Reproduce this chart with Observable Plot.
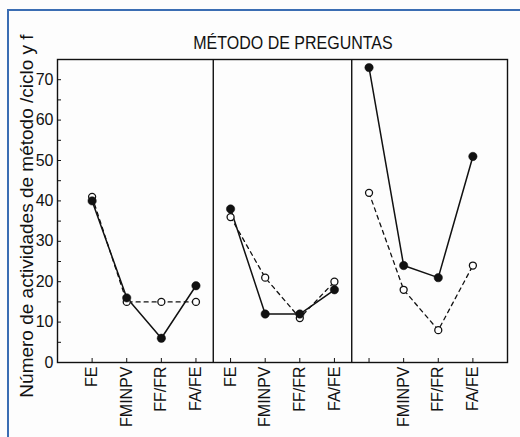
<!DOCTYPE html>
<html>
<head>
<meta charset="utf-8">
<script src="https://cdn.jsdelivr.net/npm/d3@7"></script>
<script src="https://cdn.jsdelivr.net/npm/@observablehq/plot@0.6"></script>
<style>
  body { margin: 0; background: #fff; }
  #wrap { position: relative; width: 520px; height: 437px; overflow: hidden; background: #fdfdfd;
          font-family: Arial, "Liberation Sans", Helvetica, sans-serif; color: #111; }
  #border { position: absolute; left: 7px; top: 9px; right: -10px; bottom: -10px;
            border-left: 2px solid #3b6db3; border-top: 2px solid #3b6db3; }
  #chart { position: absolute; left: 0; top: 0; }
  #title { position: absolute; left: 293px; top: 43px; transform: translate(-50%, -50%) scaleY(1.12);
           font-size: 16px; white-space: nowrap; }
  #ylabel { position: absolute; left: 27px; top: 216px; transform: translate(-50%, -50%) rotate(-90deg);
            font-size: 19px; white-space: nowrap; }
</style>
</head>
<body>
<div id="wrap">
  <div id="border"></div>
  <div id="chart"></div>
  <div id="title">MÉTODO DE PREGUNTAS</div>
  <div id="ylabel">Número de actividades de método /ciclo y f</div>
</div>
<script>
// ---- data ----
const categories = ["FE", "FMINPV", "FF/FR", "FA/FE"];
const panels = [1, 2, 3];
const tickLabels = ["FE", "FMINPV", "FF/FR", "FA/FE",
                    "FE", "FMINPV", "FF/FR", "FA/FE",
                    "",   "FMINPV", "FF/FR", "FA/FE"];
const filledValues = [40, 16, 6, 19,   38, 12, 12, 18,   73, 24, 21, 51];
const openValues   = [41, 15, 15, 15,  36, 21, 11, 20,   42, 18, 8, 24];
const yTicks = d3.range(0, 75, 5);

// ---- build rows ----
const n = categories.length;
const rows = (vals) => vals.map((v, i) => ({ i, panel: panels[Math.floor(i / n)], cat: categories[i % n], v }));
const filled = rows(filledValues);
const open = rows(openValues);
const dividers = panels.slice(1).map((p, k) => (k + 1) * n - 0.5);
const positions = d3.range(tickLabels.length);

const chart = Plot.plot({
  width: 520, height: 437,
  marginLeft: 57, marginRight: 13, marginTop: 59, marginBottom: 75,
  style: { background: "transparent", fontFamily: "Arial, 'Liberation Sans', sans-serif", fontSize: "16px", color: "#111" },
  x: { domain: [-1, tickLabels.length] },
  y: { domain: [0, 75] },
  marks: [
    Plot.frame({ stroke: "#111", strokeWidth: 1.4 }),
    Plot.ruleX(dividers, { stroke: "#111", strokeWidth: 1.4 }),
    Plot.axisY({ ticks: yTicks, tickSize: -4, tickPadding: 8, label: null,
                 tickFormat: d => (d % 10 === 0 ? String(d) : "") }),
    Plot.axisX({ ticks: positions, tickSize: -4, tickPadding: 8, tickRotate: -90, label: null,
                 tickFormat: d => tickLabels[d] }),
    Plot.line(open, { x: "i", y: "v", z: "panel", stroke: "#111", strokeWidth: 1.3, strokeDasharray: "4,4" }),
    Plot.line(filled, { x: "i", y: "v", z: "panel", stroke: "#111", strokeWidth: 1.5 }),
    Plot.dot(open, { x: "i", y: "v", r: 3.5, fill: "#fff", stroke: "#111", strokeWidth: 1.3 }),
    Plot.dot(filled, { x: "i", y: "v", r: 4.2, fill: "#111", stroke: "#111", strokeWidth: 0.5 })
  ]
});
document.getElementById("chart").appendChild(chart);
</script>
</body>
</html>
